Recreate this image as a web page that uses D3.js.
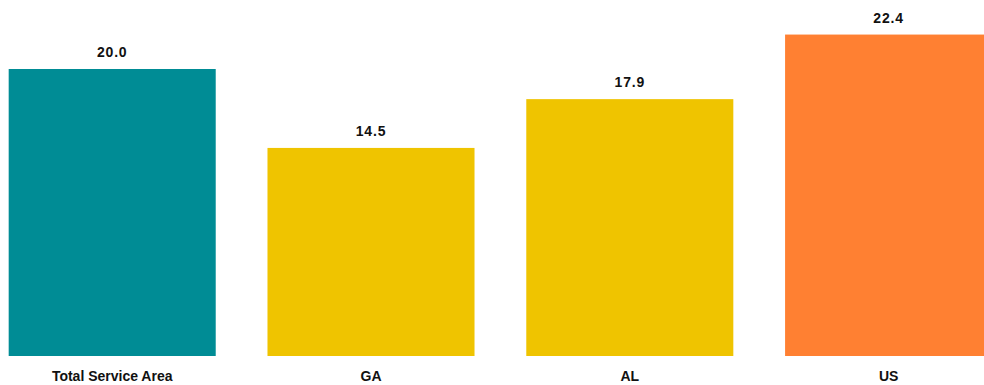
<!DOCTYPE html>
<html>
<head>
<meta charset="utf-8">
<script src="https://cdn.jsdelivr.net/npm/d3@7"></script>
<style>
  body { margin: 0; background: #fff; overflow: hidden; }
  svg { display: block; }
</style>
</head>
<body>
<div class="chart"></div>
<script>
const categories = ["Total Service Area", "GA", "AL", "US"]
const values = [20.0, 14.5, 17.9, 22.4]
const barColors = ["#008c95", "#efc400", "#efc400", "#ff8032"]

const width = 984
const height = 385

const svg = d3.select(".chart").append("svg")
  .attr("width", width)
  .attr("height", height)

const x = d3.scaleBand()
  .domain(categories)
  .range([-17.2, 1018])
  .paddingInner(0.2)
  .paddingOuter(0.1)

const y = d3.scaleLinear()
  .domain([0, 25])
  .range([356, 356 - 14.35 * 25])

const data = categories.map((c, i) => ({ name: c, value: values[i], color: barColors[i] }))

svg.append("g").selectAll("rect")
  .data(data)
  .enter()
  .append("rect")
  .attr("x", d => x(d.name))
  .attr("y", d => y(d.value))
  .attr("width", x.bandwidth())
  .attr("height", d => y(0) - y(d.value))
  .style("fill", d => d.color)

// value labels
svg.append("g").selectAll("text")
  .data(data)
  .enter()
  .append("text")
  .attr("x", d => x(d.name) + x.bandwidth() / 2)
  .attr("y", d => y(d.value) - 12)
  .attr("text-anchor", "middle")
  .style("font-family", "'Liberation Sans', Arial, sans-serif")
  .style("font-weight", "bold")
  .style("font-size", "14px")
  .style("letter-spacing", "0.8px")
  .style("fill", "#111")
  .text(d => d.value.toFixed(1))

// category axis
const axis = svg.append("g")
  .attr("transform", "translate(0,356)")
  .call(d3.axisBottom(x).tickSize(0).tickPadding(15))
axis.select(".domain").remove()
axis.selectAll("text")
  .style("font-family", "'Liberation Sans', Arial, sans-serif")
  .style("font-weight", "bold")
  .style("font-size", "14px")
  .style("fill", "#111")
</script>
</body>
</html>
